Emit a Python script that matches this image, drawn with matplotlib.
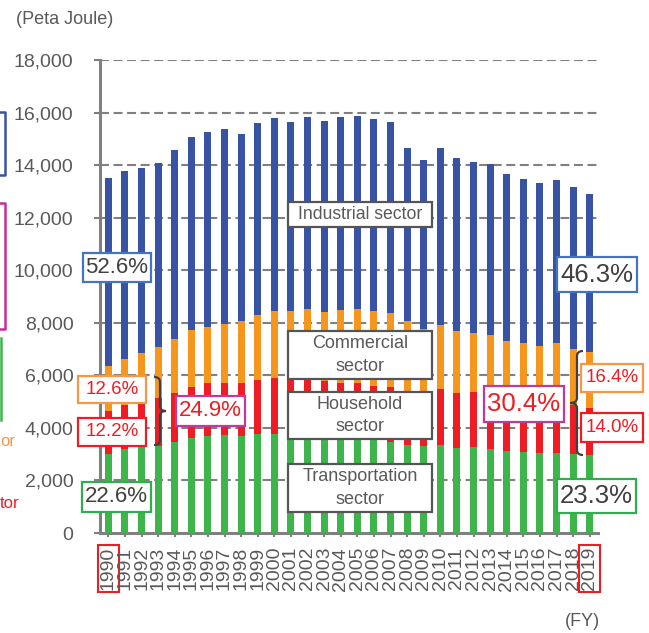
import matplotlib
matplotlib.use("Agg")
import matplotlib.pyplot as plt
import numpy as np
from matplotlib.patches import Rectangle, PathPatch
from matplotlib.path import Path

plt.rcParams['font.family'] = ['Liberation Sans', 'DejaVu Sans']

# Data (Peta Joule)
years = [str(y) for y in range(1990, 2020)]
transport = [2994, 3185, 3261, 3322, 3474, 3603, 3703, 3741, 3703, 3767,
             3767, 3740, 3720, 3690, 3660, 3620, 3570, 3474, 3349, 3311,
             3330, 3246, 3261, 3185, 3120, 3082, 3056, 3031, 3006, 2956]
household = [1660, 1686, 1674, 1827, 1865, 1941, 2016, 1978, 2016, 2055,
             2119, 2160, 2160, 2105, 2059, 2099, 2035, 2093, 2001, 1989,
             2149, 2081, 2116, 2035, 1950, 1898, 1864, 1949, 1865, 1789]
commercial = [1712, 1761, 1903, 1917, 2032, 2181, 2108, 2222, 2359, 2473,
              2561, 2559, 2644, 2615, 2755, 2805, 2842, 2793, 2717, 2451,
              2436, 2359, 2222, 2303, 2247, 2238, 2196, 2263, 2119, 2154]
industrial = [7134, 7143, 7062, 7004, 7204, 7355, 7443, 7444, 7102, 7295,
              7353, 7171, 7296, 7280, 7366, 7331, 7318, 7290, 6593, 6439,
              6745, 6574, 6506, 6517, 6333, 6252, 6194, 6187, 6175, 6011]
yticks = [0, 2000, 4000, 6000, 8000, 10000, 12000, 14000, 16000, 18000]

BLUE = "#3853A4"
ORANGE = "#F7961D"
RED = "#EE1D23"
GREEN = "#3DB54A"
GRAY = "#808080"
TXT = "#595959"
W, H = 649, 633

fig = plt.figure(figsize=(W / 100, H / 100), dpi=100)
ax = fig.add_axes([100 / W, 100 / H, 498 / W, 473 / H])

x = np.arange(len(years))
bw = 0.42
b1 = np.array(transport)
b2 = b1 + np.array(household)
b3 = b2 + np.array(commercial)
ax.bar(x, transport, bw, color=GREEN, zorder=3)
ax.bar(x, household, bw, bottom=b1, color=RED, zorder=3)
ax.bar(x, commercial, bw, bottom=b2, color=ORANGE, zorder=3)
ax.bar(x, industrial, bw, bottom=b3, color=BLUE, zorder=3)

ax.set_xlim(-0.5, len(years) - 0.5)
ax.set_ylim(0, 18000)
ax.set_yticks(yticks)
ax.set_yticklabels([f"{v:,}" for v in yticks])
ax.set_xticks(x)
ax.set_xticklabels(years, rotation=90)
for v in yticks[1:]:
    ax.axhline(v, color=GRAY, lw=1.5, ls=(0, (4.3, 2.2)), zorder=1)

for s in ['top', 'right']:
    ax.spines[s].set_visible(False)
for s in ['left', 'bottom']:
    ax.spines[s].set_color(GRAY)
    ax.spines[s].set_linewidth(2.2)
ax.tick_params(axis='y', length=4, width=1.5, color=GRAY, pad=15, labelsize=14, labelcolor=TXT)
ax.tick_params(axis='x', length=3, width=1.5, color=GRAY, pad=7, labelsize=14, labelcolor=TXT)

lbls = ax.get_xticklabels()
for lb in (lbls[0], lbls[-1]):
    lb.set_bbox(dict(facecolor='none', edgecolor=RED, lw=1.5, pad=1.5))

fig.text(16 / W, 1 - 20 / H, "(Peta Joule)", fontsize=13, color=TXT, va='center')
fig.text(600 / W, 1 - 622 / H, "(FY)", fontsize=13, color=TXT, va='center', ha='right')


def px(xp, yp):
    return xp / W, 1 - yp / H


def label_box(x0, y0, x1, y1, text, edge, tcolor, size):
    fx, fy = px(x0, y1)
    fig.add_artist(Rectangle((fx, fy), (x1 - x0) / W, (y1 - y0) / H,
                             transform=fig.transFigure, facecolor='white',
                             edgecolor=edge, lw=1.6, zorder=5))
    cx, cy = px((x0 + x1) / 2, (y0 + y1) / 2)
    fig.text(cx, cy, text, ha='center', va='center', fontsize=size,
             color=tcolor, zorder=6, linespacing=1.4)


# sector name boxes
label_box(288, 202, 432, 227, "Industrial sector", "#555555", TXT, 12.7)
label_box(288, 331, 432, 379, "Commercial\nsector", "#555555", TXT, 13)
label_box(288, 392, 432, 439, "Household\nsector", "#555555", TXT, 13)
label_box(288, 464, 432, 512, "Transportation\nsector", "#555555", TXT, 13)

# share boxes
label_box(83, 253, 151, 282, "52.6%", "#4472C4", "#404040", 16)
label_box(557, 257, 637, 292, "46.3%", "#4472C4", "#404040", 18.5)
label_box(82, 482, 151, 512, "22.6%", "#2EAE4E", "#404040", 16)
label_box(557, 479, 636, 513, "23.3%", "#2EAE4E", "#404040", 18.5)
label_box(78, 376, 146, 403, "12.6%", "#F79646", RED, 13.5)
label_box(78, 418, 146, 446, "12.2%", RED, RED, 13.5)
label_box(176, 396, 245, 426, "24.9%", "#C0399F", RED, 16)
label_box(484, 386, 564, 422, "30.4%", "#C0399F", RED, 18.5)
label_box(581, 364, 643, 392, "16.4%", "#F79646", RED, 13.5)
label_box(581, 413, 643, 442, "14.0%", RED, RED, 13.5)


def brace(x0, x1, xt, yt, yb, r=5):
    ym = (yt + yb) / 2
    pts = [(x0, yt), (x1, yt), (x1, yt + r), (x1, ym - r), (x1, ym), (xt, ym),
           (x1, ym), (x1, ym + r), (x1, yb - r), (x1, yb), (x0, yb)]
    codes = [Path.MOVETO, Path.CURVE3, Path.CURVE3, Path.LINETO, Path.CURVE3, Path.CURVE3,
             Path.CURVE3, Path.CURVE3, Path.LINETO, Path.CURVE3, Path.CURVE3]
    p = Path([px(a, b) for a, b in pts], codes)
    fig.add_artist(PathPatch(p, transform=fig.transFigure, facecolor='none',
                             edgecolor="#404040", lw=1.6, zorder=5))


brace(154, 160, 166, 377, 445)
brace(583, 577, 570, 351, 455)

# cut-off legend pieces on the left edge
fig.add_artist(plt.Line2D([0, 5 / W, 5 / W, 0], [1 - 112 / H, 1 - 112 / H, 1 - 175 / H, 1 - 175 / H],
                          transform=fig.transFigure, color="#3853A4", lw=1.8))
fig.add_artist(plt.Line2D([0, 5 / W, 5 / W, 0], [1 - 203 / H, 1 - 203 / H, 1 - 329 / H, 1 - 329 / H],
                          transform=fig.transFigure, color="#C42E9A", lw=1.8))
fig.add_artist(plt.Line2D([1 / W, 1 / W], [1 - 338 / H, 1 - 420 / H],
                          transform=fig.transFigure, color=GREEN, lw=1.8))
fig.text(0, 1 - 441 / H, "or", fontsize=12, color="#F79646", ha='left', va='center')
fig.text(0, 1 - 503 / H, "tor", fontsize=12, color=RED, ha='left', va='center')

fig.savefig("out.png", dpi=100)
